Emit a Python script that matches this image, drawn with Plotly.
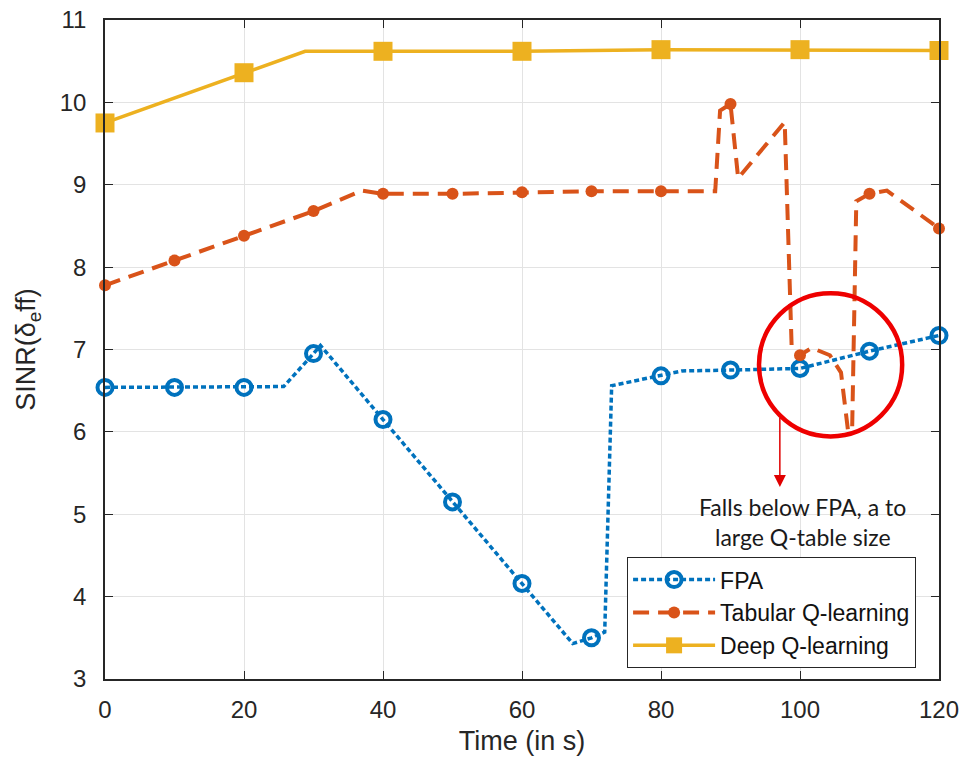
import plotly.graph_objects as go

# ---------------- data ----------------
fpa_t = [0, 10, 20, 25.7, 30, 31, 40, 50, 60, 67.3, 70, 71.9, 72.9, 80, 83, 90, 100, 110, 120]
fpa_v = [6.54, 6.54, 6.54, 6.55, 6.95, 7.05, 6.15, 5.15, 4.16, 3.43, 3.50, 3.57, 6.56, 6.68, 6.74, 6.75, 6.77, 6.98, 7.17]
fpa_marker_t = [0, 10, 20, 30, 40, 50, 60, 70, 80, 90, 100, 110, 120]

tab_t = [0, 10, 20, 30, 37, 40, 50, 60, 70, 80, 87.8, 88.5, 90, 91.1, 97.8, 98.8, 100,
         101.7, 104.3, 105.9, 106.9, 107.5, 108.1, 110, 112.5, 120]
tab_v = [7.78, 8.08, 8.38, 8.68, 8.93, 8.89, 8.89, 8.91, 8.92, 8.92, 8.92, 9.90, 9.98, 9.08, 9.76, 7.03, 6.93,
         7.02, 6.93, 6.72, 6.02, 6.02, 8.80, 8.89, 8.93, 8.47]
tab_marker_t = [0, 10, 20, 30, 40, 50, 60, 70, 80, 90, 100, 110, 120]

dqn_t = [0, 20, 28.8, 40, 60, 80, 100, 120]
dqn_v = [9.75, 10.36, 10.62, 10.62, 10.62, 10.64, 10.64, 10.63]
dqn_marker_t = [0, 20, 40, 60, 80, 100, 120]

x_ticks = [0, 20, 40, 60, 80, 100, 120]
y_ticks = [3, 4, 5, 6, 7, 8, 9, 10, 11]

series_names = ["FPA", "Tabular Q-learning", "Deep Q-learning"]
note_lines = ["Falls below FPA, a to", "large Q-table size"]

# ---------------- figure ----------------
BLUE = "#0072BD"
ORANGE = "#D95319"
YELLOW = "#EDB120"
AX = "#262626"
FONT = "Liberation Sans, Arial, sans-serif"


def sel(ts, mts):
    return [i for i, t in enumerate(ts) if t in mts]


fig = go.Figure()

fig.add_trace(go.Scatter(
    x=fpa_t, y=fpa_v, name=series_names[0], mode="lines+markers",
    line=dict(color=BLUE, width=3.5, dash="5px,3px"),
    marker=dict(symbol="circle-open", size=15, color=BLUE, line=dict(width=4, color=BLUE)),
    selectedpoints=sel(fpa_t, fpa_marker_t),
    unselected=dict(marker=dict(opacity=0)),
    cliponaxis=False,
))
fig.add_trace(go.Scatter(
    x=tab_t, y=tab_v, name=series_names[1], mode="lines+markers",
    line=dict(color=ORANGE, width=4, dash="16px,9px"),
    marker=dict(symbol="circle", size=12, color=ORANGE, line=dict(width=0)),
    selectedpoints=sel(tab_t, tab_marker_t),
    unselected=dict(marker=dict(opacity=0)),
    cliponaxis=False,
))
fig.add_trace(go.Scatter(
    x=dqn_t, y=dqn_v, name=series_names[2], mode="lines+markers",
    line=dict(color=YELLOW, width=3.5),
    marker=dict(symbol="square", size=19, color=YELLOW, line=dict(width=0)),
    selectedpoints=sel(dqn_t, dqn_marker_t),
    unselected=dict(marker=dict(opacity=0)),
    cliponaxis=False,
))

# red circle highlighting the drop
fig.add_shape(type="circle", xref="x", yref="y",
              x0=94.1, x1=114.7, y0=5.945, y1=7.683,
              line=dict(color="#ee0000", width=4.5))

# red arrow
fig.add_annotation(x=97.1, y=5.33, ax=97.1, ay=6.19, xref="x", yref="y", axref="x", ayref="y",
                   text="", showarrow=True, arrowhead=2, arrowsize=1.6, arrowwidth=1.5,
                   arrowcolor="#e00000")

# note text
for i, line in enumerate(note_lines):
    fig.add_annotation(x=100.4, y=5.09 - i * 0.365, xref="x", yref="y", text=line,
                       showarrow=False, font=dict(family="Lato, Carlito, sans-serif", size=23, color="#1a1a1a"),
                       xanchor="center", yanchor="middle")

fig.update_layout(
    width=969, height=758,
    margin=dict(l=105, r=30, t=20, b=79, autoexpand=False),
    paper_bgcolor="white", plot_bgcolor="white",
    font=dict(family=FONT, color=AX),
    showlegend=True,
    legend=dict(x=0.626, y=0.185, xanchor="left", yanchor="top",
                bgcolor="white", bordercolor=AX, borderwidth=1,
                font=dict(family=FONT, size=23, color="#111111"),
                itemwidth=82, tracegroupgap=0),
)

fig.update_xaxes(
    range=[0, 120], tickvals=x_ticks, ticktext=[str(v) for v in x_ticks],
    showline=True, linecolor=AX, linewidth=1.5, mirror="ticks", automargin=False,
    ticks="inside", ticklen=8, tickcolor=AX, tickwidth=1.2,
    showgrid=True, gridcolor="#e3e3e3", gridwidth=1, zeroline=False,
    tickfont=dict(family=FONT, size=24, color=AX), ticklabelstandoff=8,
    title=dict(text="Time (in s)", font=dict(family=FONT, size=27, color=AX), standoff=10),
)
fig.update_yaxes(
    range=[3, 11], tickvals=y_ticks, ticktext=[str(v) for v in y_ticks],
    showline=True, linecolor=AX, linewidth=1.5, mirror="ticks", automargin=False,
    ticks="inside", ticklen=8, tickcolor=AX, tickwidth=1.2,
    showgrid=True, gridcolor="#e3e3e3", gridwidth=1, zeroline=False,
    tickfont=dict(family=FONT, size=24, color=AX), ticklabelstandoff=12,
    title=dict(text="SINR(δ<sub>e</sub>ff)", font=dict(family=FONT, size=27, color=AX), standoff=16),
)

fig.write_html("out.html", config={"displayModeBar": False},
               post_script="document.body.style.margin='0';document.body.style.overflow='hidden';")
